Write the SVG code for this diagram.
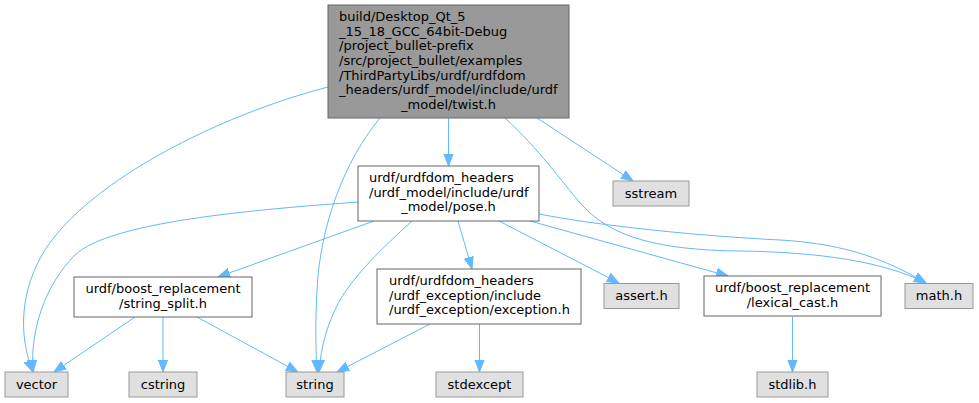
<svg xmlns="http://www.w3.org/2000/svg" width="979" height="403" viewBox="0 0 979 403">
<style>
.e{fill:none;stroke:#63b8ff;stroke-width:1;marker-end:url(#a)}
.r{fill:#999999;stroke:#666666}
.n{fill:#ffffff;stroke:#666666}
.s{fill:#e0e0e0;stroke:#999999}
text{font-family:"DejaVu Sans",sans-serif;font-size:13px;fill:#000000}
.m{text-anchor:middle}
</style>
<defs>
<marker id="a" markerUnits="userSpaceOnUse" markerWidth="14" markerHeight="12" refX="12" refY="5" orient="auto">
<path d="M0,0.4 L12,5 L0,9.6 Z" fill="#63b8ff" stroke="#63b8ff"/>
</marker>
</defs>
<rect width="979" height="403" fill="#ffffff"/>
<g id="edges">
<path class="e" d="M328,87 C220,115 90,180 45,250 C20,290 18,335 33,372"/>
<path class="e" d="M380,118 C345,160 320,225 317,290 C315,330 316,350 317,372"/>
<path class="e" d="M448.5,118 L448.5,166"/>
<path class="e" d="M537,118 L633,181"/>
<path class="e" d="M505,118 C540,150 560,180 582,205 C612,238 660,250 740,251 C820,252 885,262 926,283"/>
<path class="e" d="M358,202 C250,210 110,222 75,255 C45,285 30,330 33,372"/>
<path class="e" d="M374,221 L218,277"/>
<path class="e" d="M412,221 C380,250 355,275 340,300 C328,322 321,345 319,372"/>
<path class="e" d="M458,221 L472,269"/>
<path class="e" d="M499,221 L619,283"/>
<path class="e" d="M530,221 L728,276"/>
<path class="e" d="M539,214 C600,226 700,236 780,240 C850,244 890,262 926,283"/>
<path class="e" d="M135,317 L54,372"/>
<path class="e" d="M163,317 L163,372"/>
<path class="e" d="M197,317 L298,372"/>
<path class="e" d="M430,324 L337,372"/>
<path class="e" d="M479.5,324 L479.5,372"/>
<path class="e" d="M792.5,317 L792.5,372"/>
</g>
<g id="twist">
<rect class="r" x="328" y="5" width="241" height="113"/>
<text x="339" y="21">build/Desktop_Qt_5</text>
<text x="339" y="35.7">_15_18_GCC_64bit-Debug</text>
<text x="339" y="50.3">/project_bullet-prefix</text>
<text x="339" y="65">/src/project_bullet/examples</text>
<text x="339" y="79.7">/ThirdPartyLibs/urdf/urdfdom</text>
<text x="339" y="94.3">_headers/urdf_model/include/urdf</text>
<text class="m" x="448.5" y="109">_model/twist.h</text>
</g>
<g id="pose">
<rect class="n" x="358" y="166" width="181" height="55"/>
<text x="369" y="182">urdf/urdfdom_headers</text>
<text x="369" y="196.7">/urdf_model/include/urdf</text>
<text class="m" x="448.5" y="211.3">_model/pose.h</text>
</g>
<g id="string_split">
<rect class="n" x="74" y="277" width="178" height="40"/>
<text class="m" x="163" y="293">urdf/boost_replacement</text>
<text class="m" x="163" y="307.7">/string_split.h</text>
</g>
<g id="exception">
<rect class="n" x="377" y="269" width="204" height="55"/>
<text x="389" y="285">urdf/urdfdom_headers</text>
<text x="389" y="299.7">/urdf_exception/include</text>
<text x="389" y="314.3">/urdf_exception/exception.h</text>
</g>
<g id="lexical_cast">
<rect class="n" x="704" y="276" width="177" height="40"/>
<text class="m" x="792.5" y="292">urdf/boost_replacement</text>
<text class="m" x="792.5" y="306.7">/lexical_cast.h</text>
</g>
<g id="vector">
<rect class="s" x="5" y="372" width="63" height="25"/>
<text class="m" x="36.5" y="388.5">vector</text>
</g>
<g id="cstring">
<rect class="s" x="129" y="372" width="68" height="25"/>
<text class="m" x="163" y="388.5">cstring</text>
</g>
<g id="string">
<rect class="s" x="286" y="372" width="58" height="25"/>
<text class="m" x="315" y="388.5">string</text>
</g>
<g id="stdexcept">
<rect class="s" x="436" y="372" width="87" height="25"/>
<text class="m" x="479.5" y="388.5">stdexcept</text>
</g>
<g id="stdlib">
<rect class="s" x="757" y="372" width="71" height="25"/>
<text class="m" x="792.5" y="388.5">stdlib.h</text>
</g>
<g id="sstream">
<rect class="s" x="613" y="181" width="76" height="25"/>
<text class="m" x="651" y="197.5">sstream</text>
</g>
<g id="assert">
<rect class="s" x="604" y="283.5" width="75" height="25"/>
<text class="m" x="641.5" y="300">assert.h</text>
</g>
<g id="math">
<rect class="s" x="905" y="283.5" width="68" height="25"/>
<text class="m" x="939" y="300">math.h</text>
</g>
</svg>
